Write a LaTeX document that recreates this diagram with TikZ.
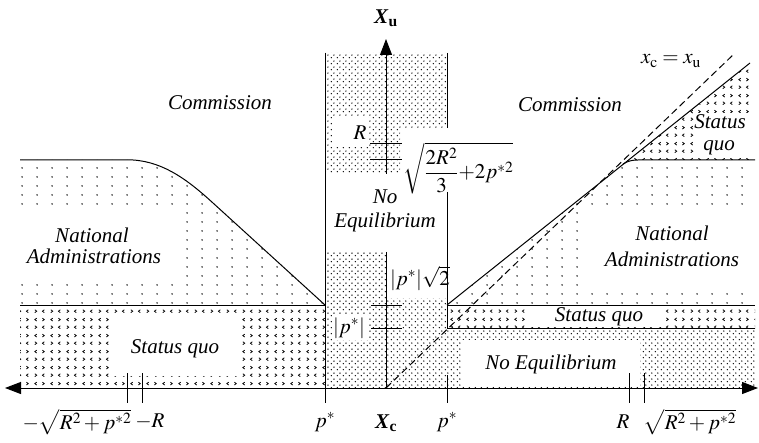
\documentclass[tikz,border=0pt]{standalone}
\usepackage{mathptmx}
\usepackage{fontspec}
\setmainfont{Liberation Serif}
\newfontfamily\timesit{Liberation Serif}
\usetikzlibrary{arrows.meta,patterns}

\pgfdeclarepatternformonly{sparsedots}{\pgfqpoint{0pt}{0pt}}{\pgfqpoint{15pt}{8.5pt}}{\pgfqpoint{15pt}{8.5pt}}{%
  \pgfpathcircle{\pgfqpoint{7.5pt}{4.25pt}}{0.85pt}\pgfusepath{fill}}
\pgfdeclarepatternformonly{densedots}{\pgfqpoint{0pt}{0pt}}{\pgfqpoint{6pt}{6pt}}{\pgfqpoint{6pt}{6pt}}{%
  \pgfpathcircle{\pgfqpoint{1.5pt}{1.5pt}}{0.85pt}%
  \pgfpathcircle{\pgfqpoint{4.5pt}{4.5pt}}{0.85pt}\pgfusepath{fill}}
\pgfdeclarepatternformonly{chevrons}{\pgfqpoint{0pt}{0pt}}{\pgfqpoint{16pt}{16pt}}{\pgfqpoint{16pt}{16pt}}{%
  \pgfsetlinewidth{0.8pt}%
  \pgfpathmoveto{\pgfqpoint{3pt}{5.5pt}}\pgfpathlineto{\pgfqpoint{5pt}{4pt}}\pgfpathlineto{\pgfqpoint{3pt}{2.5pt}}%
  \pgfpathmoveto{\pgfqpoint{13pt}{5.5pt}}\pgfpathlineto{\pgfqpoint{11pt}{4pt}}\pgfpathlineto{\pgfqpoint{13pt}{2.5pt}}%
  \pgfpathmoveto{\pgfqpoint{5pt}{13.5pt}}\pgfpathlineto{\pgfqpoint{3pt}{12pt}}\pgfpathlineto{\pgfqpoint{5pt}{10.5pt}}%
  \pgfpathmoveto{\pgfqpoint{11pt}{13.5pt}}\pgfpathlineto{\pgfqpoint{13pt}{12pt}}\pgfpathlineto{\pgfqpoint{11pt}{10.5pt}}%
  \pgfusepath{stroke}}

\begin{document}
\begin{tikzpicture}[x=1pt,y=-1pt,line width=1pt,
  >={Triangle[length=16pt,width=12pt]},
  lbl/.style={font=\fontsize{21}{24}\selectfont\timesit\itshape, inner sep=1pt},
  mth/.style={font=\fontsize{21}{24}\selectfont\timesit, inner sep=1pt},
  tickline/.style={line width=1pt}]
\useasboundingbox (0,0) rectangle (759,443);

% ---------- shaded regions ----------
\fill[pattern=sparsedots] (20,160) -- (133,160) .. controls (165,162) and (190,182) .. (213,203) -- (325,305) -- (20,305) -- cycle;
\fill[pattern=chevrons] (20,305) rectangle (325,388);
\fill[pattern=densedots] (325,53) -- (447,53) -- (447,128) -- (400,128) -- (400,174) -- (325,174) -- cycle;
\fill[pattern=densedots] (325,252) rectangle (386,388);
\fill[pattern=densedots] (386,298) -- (447,298) -- (447,328) -- (755,328) -- (755,388) -- (386,388) -- cycle;
\fill[pattern=chevrons] (447,305) rectangle (755,328);
\fill[pattern=sparsedots] (447,305) -- (623,164) .. controls (628,161) and (632,160) .. (638,160) -- (755,160) -- (755,305) -- cycle;
\fill[pattern=chevrons] (623,164) -- (750,63) -- (750,160) -- (638,160) .. controls (632,160) and (628,161) .. (623,164) -- cycle;

% ---------- white cut-outs behind labels ----------
\fill[white] (20,210) rectangle (182,278);
\fill[white] (112,316) rectangle (238,376);
\fill[white] (332,116) rectangle (368,147);
\fill[white] (332,315) rectangle (368,340);
\fill[white] (462,340) rectangle (640,386);
\fill[white] (525,306) rectangle (662,327);
\fill[white] (588,212) rectangle (752,292);
\fill[white] (694,113) rectangle (750,158);

% ---------- boundary lines ----------
\draw (20,160) -- (133,160) .. controls (165,162) and (190,182) .. (213,203) -- (325,305);
\draw (20,305) -- (325,305);
\draw (325,53) -- (325,403);
\draw (447,53) -- (447,128);
\draw (447,192) -- (447,328);
\draw (447,375) -- (447,403);
\draw (447,305) -- (755,305);
\draw (447,328) -- (755,328);
\draw (447,305) -- (750,63);
\draw (623,164) .. controls (628,161) and (632,160) .. (638,160) -- (755,160);
\draw[dash pattern=on 7pt off 4pt] (386,388) -- (735,53);

% ---------- axes ----------
\draw[<->] (5,388) -- (758,388);
\draw[->] (386,174) -- (386,39);
\draw (386,252) -- (386,388);

% ---------- ticks ----------
\draw[tickline] (127,373) -- (127,403);
\draw[tickline] (142,373) -- (142,403);
\draw[tickline] (629,373) -- (629,403);
\draw[tickline] (644,373) -- (644,403);
\draw[tickline] (370,144) -- (402,144);
\draw[tickline] (370,160) -- (402,160);
\draw[tickline] (371,305) -- (402,305);
\draw[tickline] (371,328) -- (402,328);

% ---------- labels ----------
\node[mth] (xu) at (386,18) {\textbf{\textit{X}}\textsubscript{\textbf{u}}};
\node[lbl] (com1) at (220,103) {Commission};
\node[lbl] (com2) at (570,105) {Commission};
\node[lbl] (rr) at (360,133) {$R$};
\node[mth, anchor=west, inner sep=0pt] (sq) at (403,168) {$\displaystyle\sqrt{\frac{2R^2}{3}{+}2p^{*2}}$};
\node[lbl] (no1) at (385,197) {No};
\node[lbl] (eq1) at (385,222) {Equilibrium};
\node[mth] (ps2) at (420,278) {$|p^*|\sqrt{2}$};
\node[mth] (ps1) at (349,328) {$|p^*|$};
\node[lbl] (na1) at (92,235) {National};
\node[lbl] (na2) at (94,256) {Administrations};
\node[lbl] (sq1) at (175,349) {Status quo};
\node[lbl] (na3) at (672,233) {National};
\node[lbl] (na4) at (672,259) {Administrations};
\node[lbl] (sq2) at (599,317) {Status quo};
\node[lbl] (ne2) at (551,364) {No Equilibrium};
\node[lbl] (st3) at (720,122) {Status};
\node[lbl] (qu3) at (719,148) {quo};
\node[mth] (diag) at (671,61) {$x_{\mathrm{c}} = x_{\mathrm{u}}$};
\node[mth] (b1) at (77,422) {$-\sqrt{R^2+p^{*2}}$};
\node[mth] (b2) at (150,422) {$-R$};
\node[mth] (b3) at (325,422) {$p^*$};
\node[mth] (b4) at (386,423) {\textbf{\textit{X}}\textsubscript{\textbf{c}}};
\node[mth] (b5) at (447,422) {$p^*$};
\node[mth] (b6) at (623,422) {$R$};
\node[mth] (b7) at (690,422) {$\sqrt{R^2+p^{*2}}$};
\end{tikzpicture}
\end{document}
